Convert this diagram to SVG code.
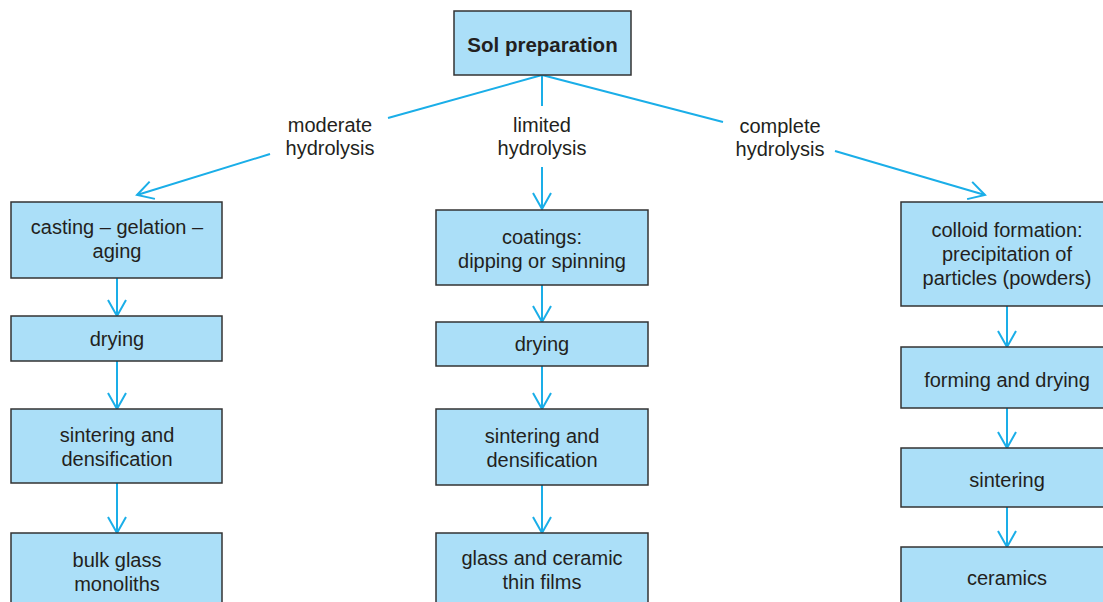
<svg xmlns="http://www.w3.org/2000/svg" width="1103" height="602" viewBox="0 0 1103 602">
  <defs>
    <style>
      .box { fill: #abdff8; stroke: #333333; stroke-width: 1.5; }
      .t { font-family: "Liberation Sans", Arial, sans-serif; font-size: 20px; fill: #231f20; text-anchor: middle; }
      .b { font-weight: bold; font-size: 20.5px; }
      .c { fill: none; stroke: #1aaee8; stroke-width: 2; }
    </style>
    <marker id="arrow" viewBox="0 0 20 20" refX="18" refY="10" markerWidth="20" markerHeight="20" markerUnits="userSpaceOnUse" orient="auto">
      <path d="M2,1 L18,10 L2,19" fill="none" stroke="#1aaee8" stroke-width="2"/>
    </marker>
  </defs>
  <rect width="1103" height="602" fill="#ffffff"/>

  <!-- connectors -->
  <g id="connectors">
    <!-- branches from the top box -->
    <line class="c" x1="542" y1="75" x2="388" y2="118"/>
    <line class="c" x1="270" y1="154" x2="137" y2="195" marker-end="url(#arrow)"/>
    <line class="c" x1="542" y1="75" x2="542" y2="106"/>
    <line class="c" x1="542" y1="167" x2="542" y2="209" marker-end="url(#arrow)"/>
    <line class="c" x1="542" y1="75" x2="723" y2="122"/>
    <line class="c" x1="835" y1="151" x2="985" y2="195" marker-end="url(#arrow)"/>
    <!-- left column -->
    <line class="c" x1="117" y1="278" x2="117" y2="316" marker-end="url(#arrow)"/>
    <line class="c" x1="117" y1="361" x2="117" y2="409" marker-end="url(#arrow)"/>
    <line class="c" x1="117" y1="483" x2="117" y2="533" marker-end="url(#arrow)"/>
    <!-- middle column -->
    <line class="c" x1="542" y1="285" x2="542" y2="322" marker-end="url(#arrow)"/>
    <line class="c" x1="542" y1="366" x2="542" y2="409" marker-end="url(#arrow)"/>
    <line class="c" x1="542" y1="485" x2="542" y2="533" marker-end="url(#arrow)"/>
    <!-- right column -->
    <line class="c" x1="1007" y1="306" x2="1007" y2="347" marker-end="url(#arrow)"/>
    <line class="c" x1="1007" y1="408" x2="1007" y2="448" marker-end="url(#arrow)"/>
    <line class="c" x1="1007" y1="507" x2="1007" y2="547" marker-end="url(#arrow)"/>
  </g>

  <!-- branch labels -->
  <g id="labels">
    <text class="t" x="330" y="132">moderate</text>
    <text class="t" x="330" y="155">hydrolysis</text>
    <text class="t" x="542" y="132">limited</text>
    <text class="t" x="542" y="155">hydrolysis</text>
    <text class="t" x="780" y="133">complete</text>
    <text class="t" x="780" y="156">hydrolysis</text>
  </g>

  <g id="sol-preparation">
    <rect class="box" x="454" y="11" width="177" height="64"/>
    <text class="t b" x="542.5" y="52">Sol preparation</text>
  </g>

  <!-- left column -->
  <g id="casting">
    <rect class="box" x="11" y="202" width="211" height="76"/>
    <text class="t" x="117" y="234">casting – gelation –</text>
    <text class="t" x="117" y="258">aging</text>
  </g>
  <g id="drying-left">
    <rect class="box" x="11" y="316" width="211" height="45"/>
    <text class="t" x="117" y="346">drying</text>
  </g>
  <g id="sintering-left">
    <rect class="box" x="11" y="409" width="211" height="74"/>
    <text class="t" x="117" y="442">sintering and</text>
    <text class="t" x="117" y="466">densification</text>
  </g>
  <g id="bulk-glass">
    <rect class="box" x="11" y="533" width="211" height="80"/>
    <text class="t" x="117" y="567">bulk glass</text>
    <text class="t" x="117" y="591">monoliths</text>
  </g>

  <!-- middle column -->
  <g id="coatings">
    <rect class="box" x="436" y="210" width="212" height="75"/>
    <text class="t" x="542" y="244">coatings:</text>
    <text class="t" x="542" y="268">dipping or spinning</text>
  </g>
  <g id="drying-middle">
    <rect class="box" x="436" y="322" width="212" height="44"/>
    <text class="t" x="542" y="351">drying</text>
  </g>
  <g id="sintering-middle">
    <rect class="box" x="436" y="409" width="212" height="76"/>
    <text class="t" x="542" y="443">sintering and</text>
    <text class="t" x="542" y="467">densification</text>
  </g>
  <g id="thin-films">
    <rect class="box" x="436" y="533" width="212" height="80"/>
    <text class="t" x="542" y="565">glass and ceramic</text>
    <text class="t" x="542" y="589">thin films</text>
  </g>

  <!-- right column -->
  <g id="colloid">
    <rect class="box" x="901" y="202" width="212" height="104"/>
    <text class="t" x="1007" y="237">colloid formation:</text>
    <text class="t" x="1007" y="261">precipitation of</text>
    <text class="t" x="1007" y="285">particles (powders)</text>
  </g>
  <g id="forming">
    <rect class="box" x="901" y="347" width="212" height="61"/>
    <text class="t" x="1007" y="387">forming and drying</text>
  </g>
  <g id="sintering-right">
    <rect class="box" x="901" y="448" width="212" height="59"/>
    <text class="t" x="1007" y="487">sintering</text>
  </g>
  <g id="ceramics">
    <rect class="box" x="901" y="547" width="212" height="66"/>
    <text class="t" x="1007" y="585">ceramics</text>
  </g>
</svg>
